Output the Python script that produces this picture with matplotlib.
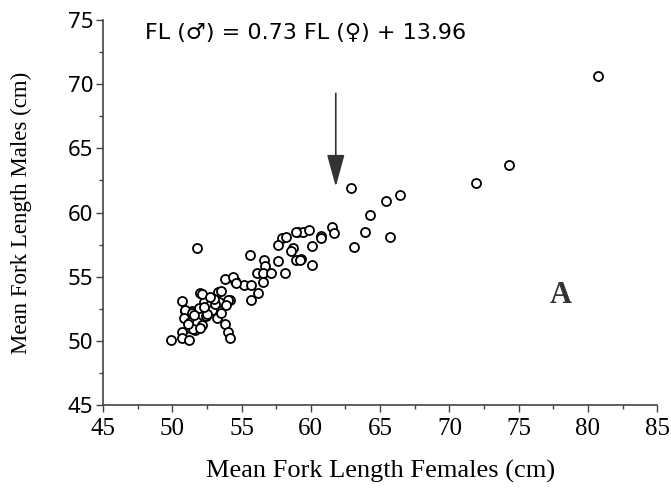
import matplotlib
matplotlib.use("Agg")
import matplotlib.pyplot as plt

female_fl = [80.7, 74.3, 71.9, 62.9, 66.4, 65.4, 64.3, 63.9, 65.7, 63.1,
             61.5, 61.7, 60.7, 60.7, 60.1, 59.3, 59.1, 59.4, 59.9, 58.9,
             57.9, 58.2, 57.6, 58.7, 58.6, 58.9, 59.2, 60.1, 55.6, 56.6,
             57.6, 56.7, 56.1, 56.55, 57.1, 58.1, 54.5, 55.2, 55.7, 56.2,
             56.55, 55.7, 54.2,
             51.8, 53.8, 54.35, 54.6, 52.0, 53.3, 50.7, 54.05, 52.3, 50.9,
             51.4, 52.15, 53.5, 53.35, 52.75, 52.6, 50.95, 51.45, 51.9, 52.4,
             50.85, 51.3, 51.8, 52.15, 53.2, 53.55, 53.8, 54.05, 54.15, 51.3,
             51.65, 51.5, 50.7, 50.7, 51.2, 49.9, 53.9, 52.9, 53.1, 52.5,
             51.6, 52.0, 53.0, 52.3, 51.1, 52.7]
male_fl = [70.6, 63.7, 62.3, 61.9, 61.4, 60.9, 59.8, 58.5, 58.1, 57.3,
           58.9, 58.4, 58.2, 58.0, 57.4, 56.4, 58.5, 58.5, 58.6, 58.5,
           58.0, 58.1, 57.5, 57.2, 57.0, 56.3, 56.3, 55.9, 56.7, 56.3,
           56.25, 55.8, 55.3, 55.3, 55.3, 55.3, 54.7, 54.35, 54.35, 53.7,
           54.6, 53.2, 53.2,
           57.2, 54.8, 55.0, 54.5, 53.75, 53.8, 53.1, 53.2, 53.05, 52.3,
           52.3, 53.65, 53.85, 53.05, 52.8, 52.3, 52.4, 52.15, 52.55, 51.9,
           51.75, 51.5, 51.5, 51.25, 51.75, 52.15, 51.35, 50.7, 50.2, 51.0,
           50.85, 50.9, 50.7, 50.2, 50.05, 50.1, 52.8, 52.4, 52.9, 52.1,
           52.0, 51.0, 53.3, 52.6, 51.3, 53.4]

x_ticks = [45, 50, 55, 60, 65, 70, 75, 80, 85]
y_ticks = [45, 50, 55, 60, 65, 70, 75]
equation = "FL (\u2642) = 0.73 FL (\u2640) + 13.96"
x_label = "Mean Fork Length Females (cm)"
y_label = "Mean Fork Length Males (cm)"

serif = ["Liberation Serif", "DejaVu Serif"]
sans = ["DejaVu Sans"]

fig = plt.figure(figsize=(6.71, 4.88), dpi=100)
ax = fig.add_axes([0.1535, 0.170, 0.8260, 0.789])

ax.plot(female_fl, male_fl, linestyle="none", marker="o", markersize=6.5,
        markerfacecolor="white", markeredgecolor="black", markeredgewidth=1.3)

ax.set_xlim(45, 85)
ax.set_ylim(45, 75)
ax.set_xticks(x_ticks)
ax.set_yticks(y_ticks)
ax.set_xticks([47.5 + 5 * i for i in range(8)], minor=True)
ax.set_yticks([47.5 + 5 * i for i in range(6)], minor=True)
ax.tick_params(which="major", length=5, width=1, color="#444444")
ax.tick_params(which="minor", length=3, width=1, color="#444444")
for lab in ax.get_xticklabels():
    lab.set_fontfamily(serif)
    lab.set_fontsize(18)
for lab in ax.get_yticklabels():
    lab.set_fontfamily(["Noto Sans", "DejaVu Sans"])
    lab.set_fontsize(16)
ax.tick_params(axis="x", pad=4)
ax.tick_params(axis="y", pad=2)

for s in ["top", "right"]:
    ax.spines[s].set_visible(False)
for s in ["left", "bottom"]:
    ax.spines[s].set_color("#444444")
    ax.spines[s].set_linewidth(1.2)

ax.set_xlabel(x_label, fontfamily=serif, fontsize=19, labelpad=15)
ax.set_ylabel(y_label, fontfamily=serif, fontsize=16.5, labelpad=26)

ax.text(48.0, 74.0, equation, fontfamily=sans, fontsize=16, va="center", ha="left")
ax.text(78.0, 53.5, "A", fontfamily=serif, fontsize=22, fontweight="bold",
        va="center", ha="center", color="#333333")

ax.annotate("", xy=(61.8, 61.8), xytext=(61.8, 69.5),
            arrowprops=dict(arrowstyle="-|>,head_length=2.0,head_width=0.55",
                            color="#333333", lw=1.2))

fig.savefig("out.png", dpi=100)
